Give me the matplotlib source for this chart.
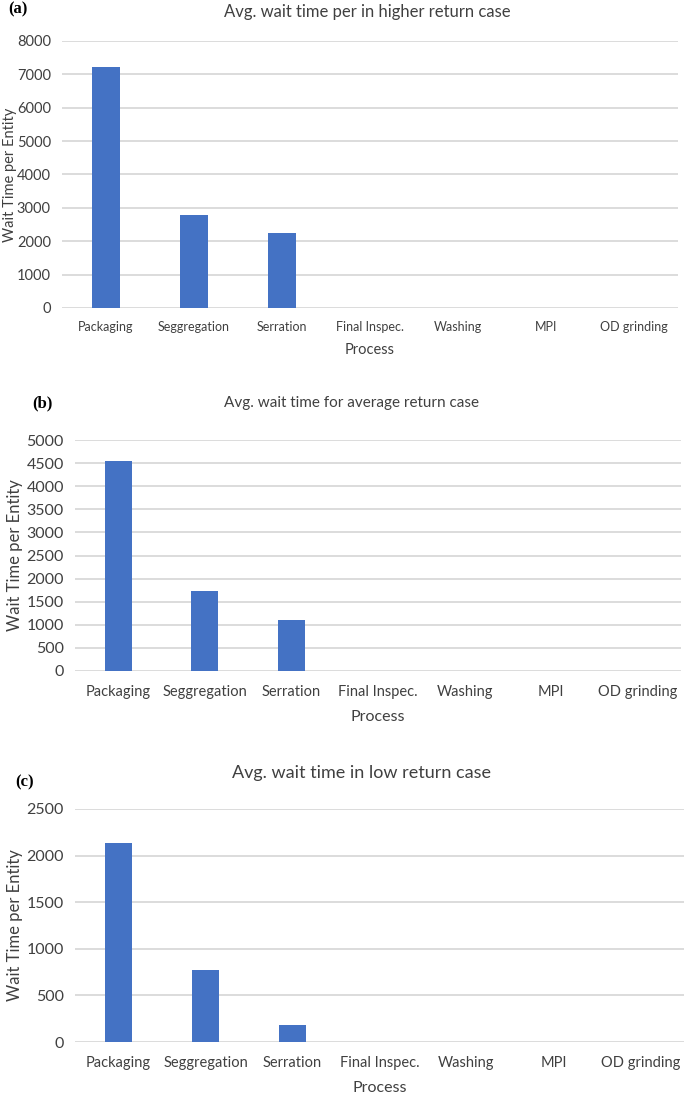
import matplotlib
matplotlib.use('Agg')
from matplotlib import pyplot as plt

processes = ['Packaging', 'Seggregation', 'Serration', 'Final Inspec.', 'Washing', 'MPI', 'OD grinding']
high_wait = [7230, 2790, 2240, 0, 0, 0, 0]
avg_wait = [4540, 1740, 1110, 0, 0, 0, 0]
low_wait = [2130, 770, 180, 0, 0, 0, 0]

titles = ['Avg. wait time per in higher return case',
          'Avg. wait time for average return case',
          'Avg. wait time in low return case']
labels = ['(a)', '(b)', '(c)']
ylims = [8000, 5000, 2500]
ysteps = [1000, 500, 500]

plt.rcParams['font.family'] = ['Lato', 'DejaVu Sans']

W, H = 685, 1099
fig = plt.figure(figsize=(W / 100, H / 100), dpi=100)

# pixel boxes: left, top(ymax), right, bottom(y0)
boxes = [(62, 41, 678, 308), (75, 440, 681, 671), (75, 809, 684, 1042)]
fs_xtick = [9, 10.5, 10.5]
fs_ytick = [10.5, 11.5, 11.5]
fs_ylab = [10.5, 12, 12]
fs_xlab = [10.5, 11.5, 11.5]
fs_title = [12, 11, 13]
title_pos = [(367, 12), (352, 403), (362, 773)]
label_pos = [(8, 9), (32, 403), (15, 782)]
ylab_x = [10, 15, 15]
xtick_y = [327, 692, 1063]
xlab_y = [350, 717, 1088]
txt = '#404040'

for i, data in enumerate([high_wait, avg_wait, low_wait]):
    l, t, r, b = boxes[i]
    ax = fig.add_axes([l / W, 1 - b / H, (r - l) / W, (b - t) / H])
    x = range(len(processes))
    ax.bar(x, data, width=0.31, color='#4472C4', zorder=3)
    ax.set_xlim(-0.5, len(processes) - 0.5)
    ax.set_ylim(0, ylims[i])
    ax.set_yticks(range(0, ylims[i] + 1, ysteps[i]))
    ax.set_xticks(list(x))
    ax.set_xticklabels([])
    ax.grid(axis='y', color='#d9d9d9', linewidth=1.3, zorder=0)
    for s in ['top', 'right', 'left', 'bottom']:
        ax.spines[s].set_visible(False)
    ax.tick_params(length=0, colors=txt)
    ax.tick_params(axis='y', labelsize=fs_ytick[i], pad=8)
    # category labels at fixed rows below the axis
    for k, name in enumerate(processes):
        ax.text(k, -(xtick_y[i] - b) / (b - t), name, transform=ax.get_xaxis_transform(),
                ha='center', va='center', fontsize=fs_xtick[i], color=txt)
    fig.text(ylab_x[i] / W, 1 - (t + b) / 2 / H, 'Wait Time per Entity', rotation=90,
             ha='center', va='center', fontsize=fs_ylab[i], color=txt)
    fig.text((l + r) / 2 / W, 1 - xlab_y[i] / H, 'Process', ha='center', va='center',
             fontsize=fs_xlab[i], color=txt)
    fig.text(title_pos[i][0] / W, 1 - title_pos[i][1] / H, titles[i], ha='center', va='center',
             fontsize=fs_title[i], color=txt)
    fig.text(label_pos[i][0] / W, 1 - label_pos[i][1] / H, labels[i], ha='left', va='center',
             fontsize=12, fontweight='bold', family='Liberation Serif')

fig.savefig('out.png', dpi=100)
